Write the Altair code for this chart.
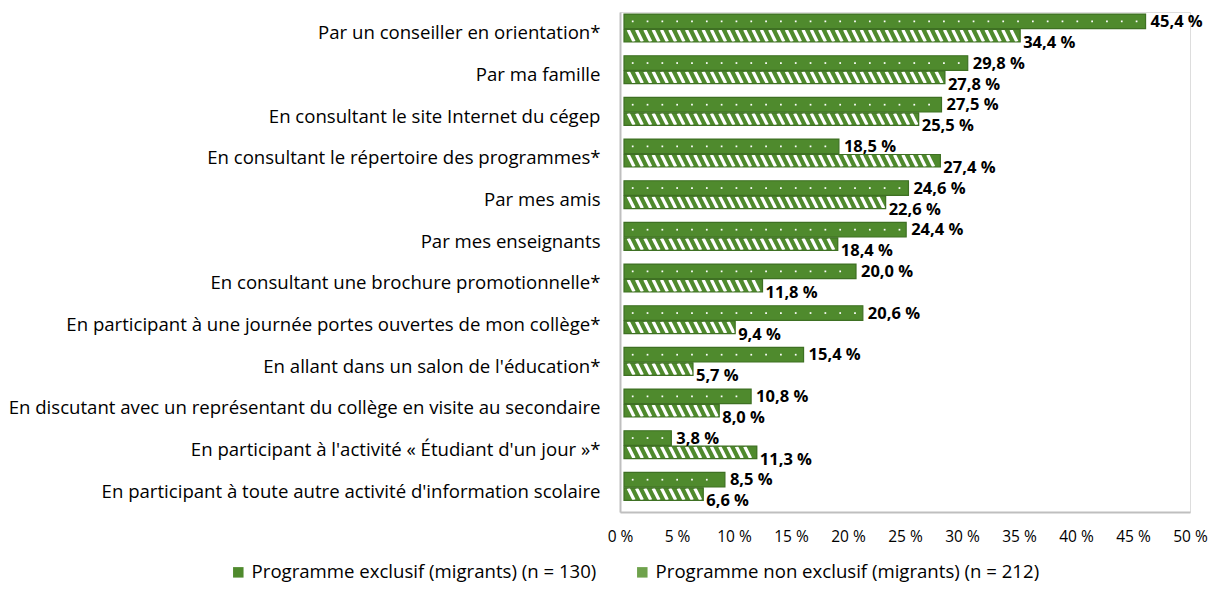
import json
import altair as alt
import pandas as pd

categories = [
    "Par un conseiller en orientation*",
    "Par ma famille",
    "En consultant le site Internet du cégep",
    "En consultant le répertoire des programmes*",
    "Par mes amis",
    "Par mes enseignants",
    "En consultant une brochure promotionnelle*",
    "En participant à une journée portes ouvertes de mon collège*",
    "En allant dans un salon de l'éducation*",
    "En discutant avec un représentant du collège en visite au secondaire",
    "En participant à l'activité « Étudiant d'un jour »*",
    "En participant à toute autre activité d'information scolaire",
]
exclusive = [45.4, 29.8, 27.5, 18.5, 24.6, 24.4, 20.0, 20.6, 15.4, 10.8, 3.8, 8.5]
non_exclusive = [34.4, 27.8, 25.5, 27.4, 22.6, 18.4, 11.8, 9.4, 5.7, 8.0, 11.3, 6.6]
series_names = [
    "Programme exclusif (migrants) (n = 130)",
    "Programme non exclusif (migrants) (n = 212)",
]
tick_values = [0, 5, 10, 15, 20, 25, 30, 35, 40, 45, 50]

rows = []
for i, c in enumerate(categories):
    rows.append({"cat": c, "idx": i, "s": 0, "series": series_names[0], "value": exclusive[i]})
    rows.append({"cat": c, "idx": i, "s": 1, "series": series_names[1], "value": non_exclusive[i]})
df = pd.DataFrame(rows)

GREEN = "#4f8a2d"
EDGE = "#3e7023"
FONT = "Open Sans"

base = alt.Chart(df).transform_calculate(
    x0="0",
    y0="datum.idx + (datum.s == 0 ? 0.05 : 0.42)",
    y1="datum.idx + (datum.s == 0 ? 0.40 : 0.72)",
    yc="datum.idx + (datum.s == 0 ? 0.225 : 0.57)",
    ylab="datum.idx + (datum.s == 0 ? 0.24 : 0.74)",
    label="replace(format(datum.value, '.1f'), '.', ',') + ' %'",
)

yscale = alt.Scale(domain=[0, 12], reverse=True, nice=False, zero=False)
xscale = alt.Scale(domain=[0, 50], nice=False)

label_expr = json.dumps(categories, ensure_ascii=False) + "[floor(datum.value)]"

xaxis = alt.Axis(
    values=tick_values, labelExpr="datum.value + ' %'", grid=False, ticks=False,
    domainColor="#bfbfbf", domainWidth=2, labelPadding=17, labelFontSize=15.5,
    labelFont=FONT, labelColor="#000000", title=None, labelFlush=False,
)
yaxis = alt.Axis(
    values=[i + 0.5 for i in range(len(categories))], labelExpr=label_expr,
    grid=False, ticks=False, domainColor="#bfbfbf", domainWidth=2,
    labelPadding=20, labelFontSize=18.6, labelFont=FONT, labelColor="#000000",
    labelLimit=900, title=None,
)

bars = base.mark_rect(xOffset=4, x2Offset=8).encode(
    x=alt.X("x0:Q", scale=xscale, axis=xaxis),
    x2="value:Q",
    y=alt.Y("y0:Q", scale=yscale, axis=yaxis),
    y2="y1:Q",
    color=alt.Color(
        "series:N",
        scale=alt.Scale(domain=series_names, range=[GREEN, "#6fa24c"]),
        legend=alt.Legend(
            title=None, orient="none", legendX=-391, legendY=551,
            direction="horizontal", symbolType="square", symbolSize=110,
            symbolStrokeWidth=0, labelFontSize=18.6, labelFont=FONT,
            labelColor="#000000", columnPadding=36, labelLimit=600,
        ),
    ),
)

bars_fill2 = base.transform_filter("datum.s == 1").mark_rect(
    xOffset=4, x2Offset=8, color=GREEN
).encode(x="x0:Q", x2="value:Q", y="y0:Q", y2="y1:Q")

dots = base.transform_filter("datum.s == 0").transform_calculate(
    pts="sequence(0.5, datum.value - 0.2, 1.3)"
).transform_flatten(["pts"]).mark_point(
    shape="square", filled=True, color="white", size=3, opacity=1, xOffset=7
).encode(x="pts:Q", y="yc:Q")

stripes = base.transform_filter("datum.s == 1").transform_calculate(
    pts="sequence(0.45, datum.value - 0.1, 0.73)"
).transform_flatten(["pts"]).mark_point(
    shape="M-0.5,-1L0.5,1", filled=False, color="white", strokeWidth=3.2,
    size=140, opacity=1, xOffset=6,
).encode(x="pts:Q", y="yc:Q")

outline = base.mark_rect(
    xOffset=4, x2Offset=8, filled=False, stroke=EDGE, strokeWidth=1.2
).encode(x="x0:Q", x2="value:Q", y="y0:Q", y2="y1:Q")

labels0 = base.transform_filter("datum.s == 0").mark_text(
    align="left", baseline="middle", dx=13, fontSize=16.5, fontWeight="bold",
    font=FONT, color="#000000",
).encode(x="value:Q", y="ylab:Q", text="label:N")

labels1 = base.transform_filter("datum.s == 1").mark_text(
    align="left", baseline="middle", dx=11, fontSize=16.5, fontWeight="bold",
    font=FONT, color="#000000",
).encode(x="value:Q", y="ylab:Q", text="label:N")

chart = alt.layer(bars, bars_fill2, dots, stripes, outline, labels0, labels1).properties(
    width=570, height=500,
    padding={"top": 4, "left": 0, "right": 8, "bottom": 0},
).configure_view(stroke=None).configure(background="white")

chart.save("out.html", embed_options={"renderer": "svg", "actions": False})
